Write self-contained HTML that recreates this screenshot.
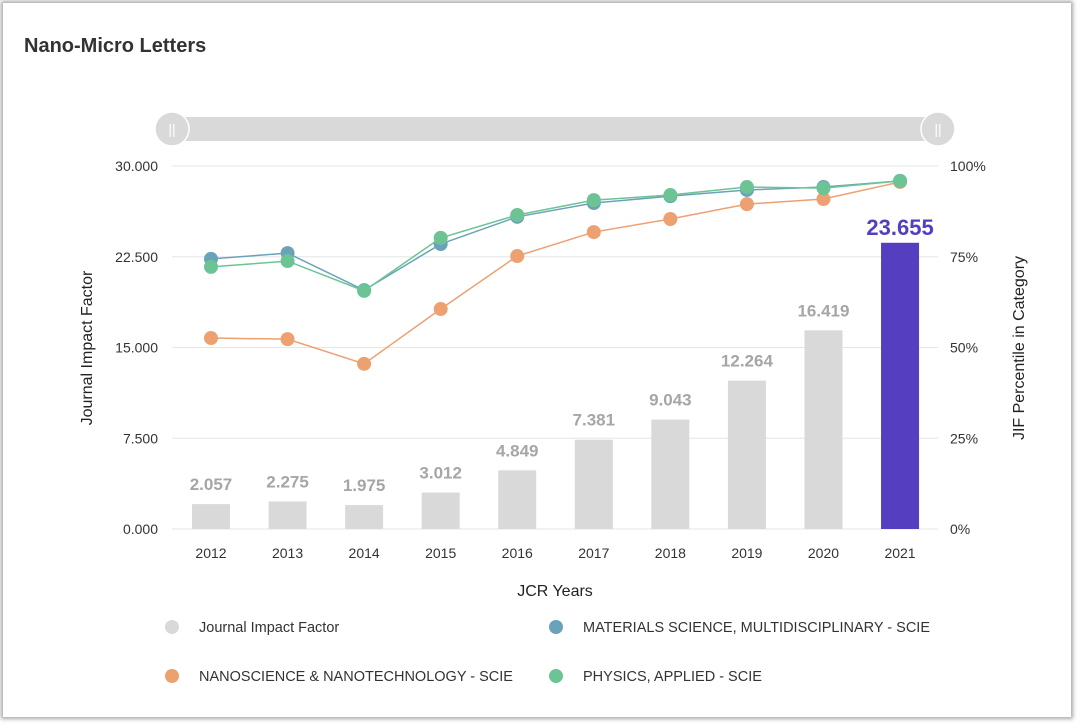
<!DOCTYPE html>
<html><head><meta charset="utf-8"><style>
body{margin:0;width:1080px;height:728px;background:#fff;font-family:"Liberation Sans",sans-serif;overflow:hidden}
#card{position:absolute;left:3px;top:3px;width:1068px;height:714px;background:#fff;box-shadow:0 0 4px 2px rgba(0,0,0,0.35)}
</style></head><body>
<div id="card"></div>
<svg id="svg" width="1080" height="728" style="position:absolute;left:0;top:0">
<text x="24" y="52" font-size="20" font-weight="bold" fill="#333">Nano-Micro Letters</text>
<g>
<rect x="172" y="117" width="766" height="24" fill="#d9d9d9"/>
<circle cx="172" cy="129" r="17" fill="#d9d9d9" stroke="#fff" stroke-width="1.5"/>
<circle cx="938" cy="129" r="17" fill="#d9d9d9" stroke="#fff" stroke-width="1.5"/>
<text x="172" y="134" font-size="14" fill="#fff" text-anchor="middle">||</text>
<text x="938" y="134" font-size="14" fill="#fff" text-anchor="middle">||</text>
</g>
<g id="grid"></g><g id="bars"></g><g id="lines"></g><g id="axes"></g>
<text x="92" y="348" font-size="16" fill="#222" text-anchor="middle" transform="rotate(-90 92 348)">Journal Impact Factor</text>
<text x="1024" y="348" font-size="16" fill="#222" text-anchor="middle" transform="rotate(-90 1024 348)">JIF Percentile in Category</text>
<text x="555" y="596" font-size="16" fill="#222" text-anchor="middle">JCR Years</text>
<g font-size="14.5" fill="#333">
<g><circle cx="172" cy="627" r="7" fill="#d9d9d9"/><text x="199" y="632">Journal Impact Factor</text></g>
<g><circle cx="556" cy="627" r="7" fill="#6aa3b9"/><text x="583" y="632">MATERIALS SCIENCE, MULTIDISCIPLINARY - SCIE</text></g>
<g><circle cx="172" cy="676" r="7" fill="#eda070"/><text x="199" y="681">NANOSCIENCE &amp; NANOTECHNOLOGY - SCIE</text></g>
<g><circle cx="556" cy="676" r="7" fill="#6cc494"/><text x="583" y="681">PHYSICS, APPLIED - SCIE</text></g>
</g>
</svg>
<script>
const years=["2012","2013","2014","2015","2016","2017","2018","2019","2020","2021"];
const jif=[2.057,2.275,1.975,3.012,4.849,7.381,9.043,12.264,16.419,23.655];
const materials=[74.4,76,65.8,78.5,86,89.8,91.7,93.4,94.2,95.9];
const nano=[52.6,52.3,45.5,60.6,75.2,81.8,85.4,89.5,90.9,95.6];
const physics=[72.2,73.8,65.6,80.2,86.5,90.6,92,94.2,93.9,95.9];
const yTicks=["0.000","7.500","15.000","22.500","30.000"];
const y2Ticks=["0%","25%","50%","75%","100%"];
const NS="http://www.w3.org/2000/svg";
const X0=211,DX=76.56,Y0=529,H=363;
const xs=i=>X0+i*DX, y=v=>Y0-v/30*H, yp=v=>Y0-v/100*H;
function mk(t,a,p){const e=document.createElementNS(NS,t);for(const k in a)e.setAttribute(k,a[k]);document.getElementById(p).appendChild(e);return e;}
yTicks.forEach((t,i)=>{const yy=Y0-i*H/4;
 const g=mk('line',{x1:172,x2:938,y1:yy,y2:yy,stroke:'#e6e6e6'},'grid');
 
 
 const a=mk('text',{x:158,y:yy+5,'font-size':14,fill:'#333','text-anchor':'end'},'axes');a.textContent=t;
 
 
 const b=mk('text',{x:950,y:yy+5,'font-size':14,fill:'#333'},'axes');b.textContent=y2Ticks[i];
 
 
});
years.forEach((yr,i)=>{
 const last=i===years.length-1;
 const r=mk('rect',{x:xs(i)-19,y:y(jif[i]),width:38,height:Y0-y(jif[i]),fill:last?'#563ec0':'#d9d9d9'},'bars');
 
 
 const l=mk('text',{x:xs(i),y:y(jif[i])-(last?8:14),'font-size':last?22:17,'font-weight':'bold',fill:last?'#563ec0':'#a6a6a6','text-anchor':'middle'},'bars');
 l.textContent=jif[i].toFixed(3);
 
 
 const t=mk('text',{x:xs(i),y:558,'font-size':14,fill:'#333','text-anchor':'middle'},'axes');t.textContent=yr;
 
 
});
[[nano,'#eda070','nano'],[materials,'#6aa3b9','materials'],[physics,'#6cc494','physics']].forEach(([d,c,n])=>{
 const p=mk('polyline',{points:d.map((v,i)=>xs(i)+','+yp(v)).join(' '),fill:'none',stroke:c,'stroke-width':1.5},'lines');
 
 
 d.forEach((v,i)=>{const ci=mk('circle',{cx:xs(i),cy:yp(v),r:7,fill:c},'lines');
  
  });
});
</script>
</body></html>
